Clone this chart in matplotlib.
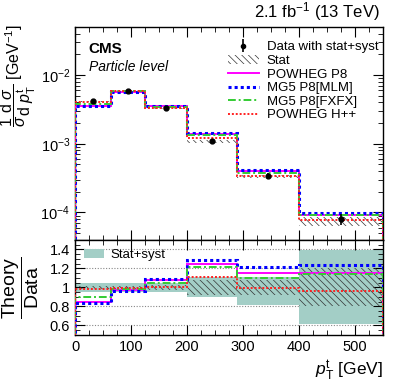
import numpy as np
import matplotlib
matplotlib.use("Agg")
import matplotlib.pyplot as plt
from matplotlib.patches import Patch
from matplotlib.ticker import MultipleLocator, LogLocator, NullFormatter, FixedLocator

plt.rcParams.update({
    'font.family': ['Liberation Sans', 'DejaVu Sans'],
    'mathtext.fontset': 'custom',
    'mathtext.rm': 'Liberation Sans',
    'mathtext.it': 'Liberation Sans:italic',
    'mathtext.bf': 'Liberation Sans:bold',
    'hatch.linewidth': 0.5,
})

# ===== data =====
edges = [0, 65, 125, 200, 290, 400, 550]
data = [4.2e-3, 5.9e-3, 3.3e-3, 1.11e-3, 3.45e-4, 8.0e-5]
data_err = [0.03, 0.03, 0.03, 0.06, 0.08, 0.17]   # upper-panel error bars (relative)
tot_up = [0.05, 0.05, 0.05, 0.11, 0.11, 0.39]
tot_dn = [0.045, 0.05, 0.05, 0.10, 0.185, 0.385]
stat_rel = [0.02, 0.02, 0.025, 0.08, 0.08, 0.20]

r_powheg_p8 = [0.85, 0.97, 1.08, 1.247, 1.149, 1.149]
r_mg5_mlm = [0.84, 0.965, 1.086, 1.29, 1.219, 1.237]
r_mg5_fxfx = [0.897, 0.98, 1.044, 1.21, 1.10, 1.14]
r_powheg_hpp = [0.98, 0.99, 1.0, 1.107, 0.998, 0.963]

models = [
    ("POWHEG P8", r_powheg_p8, dict(color='#ff00ff', lw=1.4, ls='-')),
    ("MG5 P8[MLM]", r_mg5_mlm, dict(color='#0000ff', lw=2.2, ls=(0, (1, 1)))),
    ("MG5 P8[FXFX]", r_mg5_fxfx, dict(color='#33cc33', lw=1.4, ls=(0, (4, 1.5, 1, 1.5)))),
    ("POWHEG H++", r_powheg_hpp, dict(color='#ff2020', lw=1.4, ls=(0, (1, 1)))),
]

edges = np.array(edges, float)
data = np.array(data)
data_err = np.array(data_err)
centers = 0.5 * (edges[:-1] + edges[1:])
stat_rel = np.array(stat_rel)
tot_up = np.array(tot_up)
tot_dn = np.array(tot_dn)

band_col = '#a3cec6'

fig = plt.figure(figsize=(3.99, 3.85), dpi=100)
ax1 = fig.add_axes([0.188, 0.377, 0.772, 0.553])
ax2 = fig.add_axes([0.188, 0.130, 0.772, 0.247], sharex=ax1)

# ===== upper panel =====
ax1.stairs(data * (1 + stat_rel * 0.3), edges, baseline=data * (1 - stat_rel), fill=True,
           facecolor='none', edgecolor='#333333', hatch='\\\\\\\\\\', lw=0, zorder=1)
for name, r, st in models:
    ax1.stairs(np.array(r) * data, edges, zorder=3, **st)
ax1.errorbar(centers, data, yerr=data * data_err, fmt='o', color='black',
             ms=3.5, elinewidth=1.2, capsize=0, zorder=5)

ax1.set_yscale('log')
ax1.set_ylim(4e-5, 5e-2)
ax1.set_xlim(0, 550)
ax1.yaxis.set_major_locator(LogLocator(base=10, numticks=10))
ax1.yaxis.set_minor_locator(LogLocator(base=10, subs=np.arange(2, 10), numticks=20))
ax1.yaxis.set_minor_formatter(NullFormatter())
ax1.set_ylabel(r'$\dfrac{1}{\sigma}\dfrac{\mathrm{d}\ \sigma}{\mathrm{d}\ p_{\mathrm{T}}^{\mathrm{t}}}$ [GeV$^{-1}$]',
               fontsize=11.5)
ax1.yaxis.set_label_coords(-0.12, 0.77)
plt.setp(ax1.get_xticklabels(), visible=False)

ax1.text(0.045, 0.93, 'CMS', transform=ax1.transAxes, fontsize=11, fontweight='bold', va='top')
ax1.text(0.045, 0.845, 'Particle level', transform=ax1.transAxes, fontsize=10, style='italic', va='top')
fig.text(0.953, 0.94, r'2.1 fb$^{-1}$ (13 TeV)', ha='right', va='bottom', fontsize=12)

handles = [ax1.errorbar([], [], yerr=[], fmt='o', color='black', ms=3, elinewidth=1.2),
           Patch(facecolor='none', edgecolor='#333333', hatch='\\\\\\\\\\', lw=0)]
labels = ['Data with stat+syst', 'Stat']
for name, r, st in models:
    handles.append(plt.Line2D([], [], **st))
    labels.append(name)
ax1.legend(handles, labels, loc='upper right', bbox_to_anchor=(1.01, 0.97), frameon=False,
           fontsize=9.5, handlelength=2.3, labelspacing=0.1, handletextpad=0.6, borderaxespad=0.2)

# ===== lower panel =====
for y in [0.6, 0.8, 1.0, 1.2, 1.4]:
    ax2.axhline(y, color='#888888', lw=0.8, ls=(0, (1, 1.5)), zorder=0)
ax2.stairs(1 + tot_up, edges, baseline=1 - tot_dn, fill=True, color=band_col, lw=0, zorder=1)
ax2.stairs(1 + stat_rel, edges, baseline=1 - stat_rel, fill=True, facecolor='none',
           edgecolor='#333333', hatch='\\\\\\\\\\', lw=0, zorder=2)
for name, r, st in models:
    ax2.stairs(r, edges, zorder=3, **st)

ax2.set_ylim(0.5, 1.5)
ax2.yaxis.set_major_locator(FixedLocator([0.6, 0.8, 1.0, 1.2, 1.4]))
ax2.set_yticklabels(['0.6', '0.8', '1', '1.2', '1.4'])
ax2.yaxis.set_minor_locator(MultipleLocator(0.05))
ax2.xaxis.set_major_locator(MultipleLocator(100))
ax2.xaxis.set_minor_locator(MultipleLocator(25))
ax2.set_ylabel(r'$\dfrac{\mathrm{Theory}}{\mathrm{Data}}$', fontsize=14)
ax2.yaxis.set_label_coords(-0.11, 0.5)
ax2.set_xlabel(r'$p_{\mathrm{T}}^{\mathrm{t}}$ [GeV]', fontsize=12.5, loc='right')
ax2.legend([Patch(facecolor=band_col, edgecolor='none')], ['Stat+syst'], loc='upper left',
           frameon=False, fontsize=9.5, handlelength=1.5, borderaxespad=0.3, handletextpad=0.5)

for ax in (ax1, ax2):
    ax.tick_params(which='both', direction='in', top=True, right=True, labelsize=10.5)
    ax.tick_params(which='major', length=7)
    ax.tick_params(which='minor', length=3.5)
    for s in ax.spines.values():
        s.set_linewidth(1.0)
ax1.xaxis.set_minor_locator(MultipleLocator(25))
ax1.xaxis.set_major_locator(MultipleLocator(100))

fig.savefig('out.png', dpi=100)
